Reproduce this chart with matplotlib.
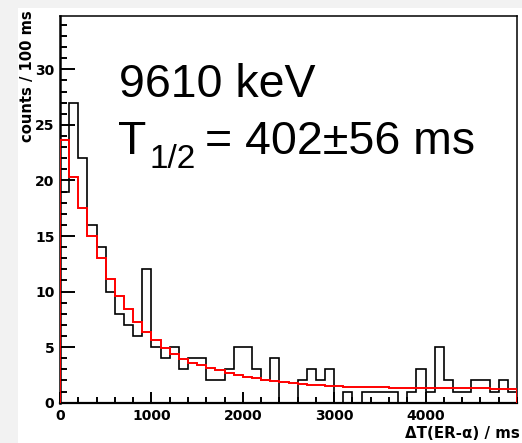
import numpy as np
import matplotlib
matplotlib.use("Agg")
import matplotlib.pyplot as plt
from matplotlib.patches import Rectangle
from matplotlib.ticker import MultipleLocator

# ---- data ----
bin_width_ms = 100
n_bins = 50
counts = [19, 27, 22, 16, 14, 10, 8, 7, 6, 12,
          5, 4, 5, 3, 4, 4, 2, 2, 3, 5,
          5, 3, 2, 4, 0, 0, 2, 3, 2, 3,
          0, 1, 0, 1, 1, 1, 1, 0, 1, 3,
          1, 5, 2, 1, 1, 2, 2, 1, 2, 1]
fit_vals = [23.6, 20.3, 17.5, 15.0, 13.0, 11.1, 9.6, 8.4, 7.3, 6.4,
            5.6, 4.9, 4.4, 3.9, 3.6, 3.35, 3.1, 2.9, 2.7, 2.5,
            2.35, 2.2, 2.05, 1.95, 1.85, 1.75, 1.68, 1.62, 1.56, 1.52,
            1.48, 1.45, 1.42, 1.40, 1.38, 1.37, 1.36, 1.35, 1.34, 1.33,
            1.32, 1.31, 1.30, 1.30, 1.29, 1.28, 1.28, 1.27, 1.27, 1.27]
x_ticks = [0, 1000, 2000, 3000, 4000]
y_ticks = [0, 5, 10, 15, 20, 25, 30]
label_energy = "9610 keV"
label_T = "T"
label_sub = "1/2"
label_value = "= 402±56 ms"
xlabel = "ΔT(ER-α) / ms"
ylabel = "counts / 100 ms"

edges = np.arange(n_bins + 1) * bin_width_ms

W, H = 522, 443
fig = plt.figure(figsize=(W / 100, H / 100), dpi=100)
fig.patch.set_facecolor("white")

# light gray frame strips (left & top)
fig.patches.append(Rectangle((0, 0), 18 / W, 1, transform=fig.transFigure,
                             facecolor="#f2f2f2", edgecolor="none", zorder=0))
fig.patches.append(Rectangle((0, 1 - 8 / H), 1, 8 / H, transform=fig.transFigure,
                             facecolor="#f2f2f2", edgecolor="none", zorder=0))

left, right, top, bottom = 60, 517, 16, 402.7
ax = fig.add_axes([left / W, (H - bottom) / H, (right - left) / W, (bottom - top) / H])
ax.set_facecolor("white")

ax.stairs(counts, edges, color="black", linewidth=1.2, zorder=3)
ax.stairs(fit_vals, edges, color="#ff0000", linewidth=1.4, zorder=4)

ax.set_xlim(0, 5000)
ax.set_ylim(0, 34.8)

ax.set_xticks(x_ticks)
ax.set_yticks(y_ticks)
ax.xaxis.set_minor_locator(MultipleLocator(200))
ax.yaxis.set_minor_locator(MultipleLocator(1))
ax.tick_params(axis="both", which="both", direction="in", top=False, right=False,
               width=1.4, color="black")
ax.tick_params(axis="y", which="major", length=10.8, pad=4)
ax.tick_params(axis="y", which="minor", length=5.0)
ax.tick_params(axis="x", which="major", length=7.9, pad=4.5)
ax.tick_params(axis="x", which="minor", length=4.3)
for lab in ax.get_xticklabels() + ax.get_yticklabels():
    lab.set_fontweight("bold")
    lab.set_fontsize(10)
    lab.set_family("DejaVu Sans")

ax.spines["left"].set_linewidth(1.8)
ax.spines["bottom"].set_linewidth(1.6)
ax.spines["top"].set_linewidth(1.1)
ax.spines["right"].set_linewidth(1.1)

fig.text(28 / W, 1 - 10 / H, ylabel, rotation=90, ha="center", va="top",
         fontsize=10.6, fontweight="bold", family="DejaVu Sans")
fig.text(405 / W, 1 - 438 / H, xlabel, ha="left", va="baseline",
         fontsize=10.8, fontweight="bold", family="DejaVu Sans")

tf = "Liberation Sans"
fig.text(119 / W, 1 - 97 / H, label_energy, ha="left", va="baseline",
         fontsize=33.5, family=tf)
fig.text(118 / W, 1 - 154 / H, label_T, ha="left", va="baseline",
         fontsize=33.5, family=tf)
fig.text(149 / W, 1 - 168 / H, label_sub, ha="left", va="baseline",
         fontsize=24, family=tf)
fig.text(205 / W, 1 - 154 / H, label_value, ha="left", va="baseline",
         fontsize=33.5, family=tf)

fig.savefig("out.png", dpi=100, facecolor=fig.get_facecolor())
